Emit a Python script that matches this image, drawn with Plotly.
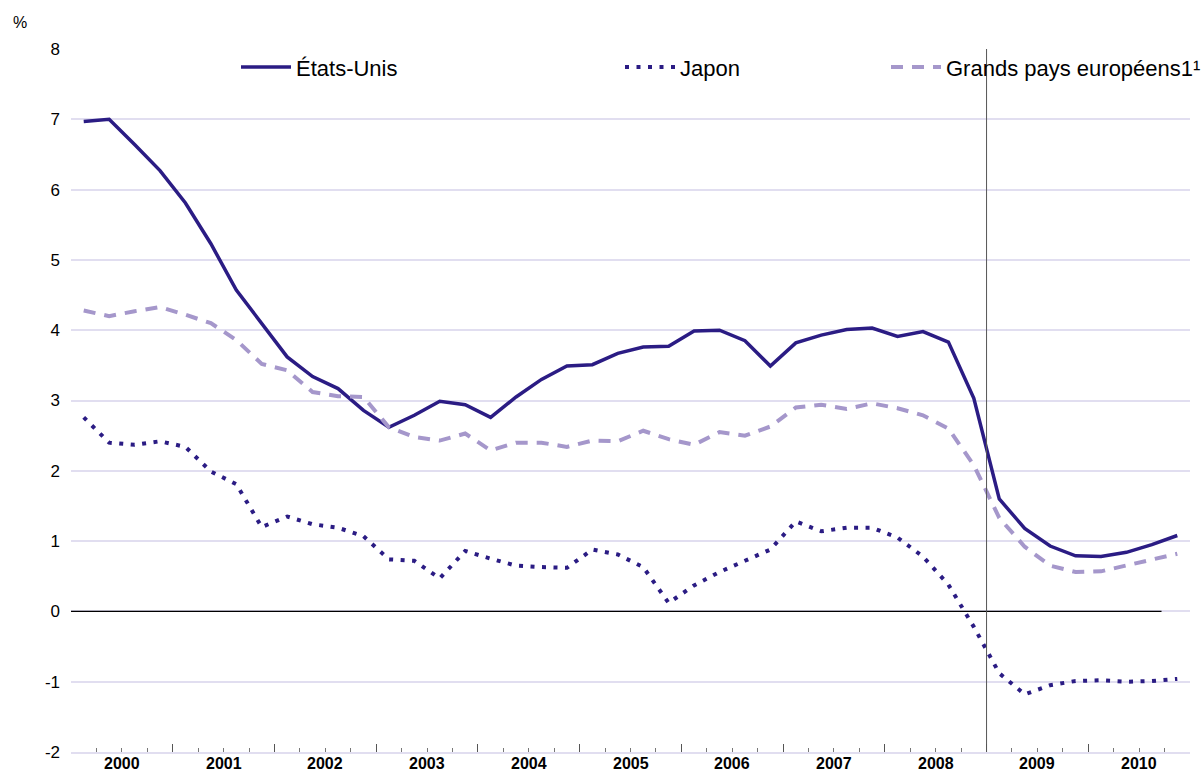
import plotly.graph_objects as go

# ---- data (quarterly, 2000T1 .. 2010T4) ----
years = list(range(2000, 2011))
quarters = [1, 2, 3, 4]

etats_unis = [6.97, 7.00, 6.64, 6.27, 5.81, 5.23, 4.57, 4.09, 3.62, 3.34, 3.17, 2.86,
              2.62, 2.79, 2.99, 2.94, 2.76, 3.05, 3.30, 3.49, 3.51, 3.67, 3.76, 3.77,
              3.99, 4.00, 3.85, 3.49, 3.82, 3.93, 4.01, 4.03, 3.91, 3.98, 3.83, 3.03,
              1.60, 1.18, 0.93, 0.79, 0.78, 0.84, 0.95, 1.08]

japon = [2.76, 2.40, 2.37, 2.42, 2.34, 1.99, 1.81, 1.20, 1.35, 1.24, 1.19, 1.07,
         0.74, 0.72, 0.47, 0.86, 0.75, 0.65, 0.63, 0.62, 0.88, 0.81, 0.63, 0.12,
         0.37, 0.56, 0.72, 0.88, 1.28, 1.14, 1.19, 1.19, 1.05, 0.78, 0.38, -0.22,
         -0.88, -1.18, -1.05, -0.99, -0.98, -1.00, -0.99, -0.96]

europe = [4.28, 4.20, 4.27, 4.33, 4.22, 4.10, 3.86, 3.52, 3.43, 3.12, 3.06, 3.05,
          2.62, 2.48, 2.43, 2.53, 2.29, 2.40, 2.40, 2.34, 2.43, 2.42, 2.57, 2.45,
          2.37, 2.55, 2.50, 2.63, 2.90, 2.94, 2.88, 2.96, 2.89, 2.79, 2.60, 2.08,
          1.33, 0.92, 0.65, 0.56, 0.57, 0.65, 0.73, 0.82]

y_ticks = [-2, -1, 0, 1, 2, 3, 4, 5, 6, 7, 8]
y_ticktext = ["-2", "-1", "0", "1", "2", "3", "4", "5", "6", "7", "8"]

# quarter mid-points on a continuous year scale
x_q = [y + (q - 0.5) / 4 for y in years for q in quarters]

NAVY = "#2B1C84"
LAV = "#A597CB"
GRID = "#E1DEF0"
FONT = "Liberation Sans, Arial, Helvetica, sans-serif"

fig = go.Figure()
fig.add_trace(go.Scatter(x=x_q, y=etats_unis, mode="lines", name="États-Unis",
                         line=dict(color=NAVY, width=3.5), legend="legend"))
fig.add_trace(go.Scatter(x=x_q, y=japon, mode="lines", name="Japon",
                         line=dict(color=NAVY, width=4, dash="4px,7.5px"), legend="legend2"))
fig.add_trace(go.Scatter(x=x_q, y=europe, mode="lines", name="Grands pays européens1¹",
                         line=dict(color=LAV, width=4, dash="12px,9px"), legend="legend3"))

# zero line and 2009 marker
fig.add_shape(type="line", xref="x", yref="y", x0=2000, x1=2010.72, y0=0, y1=0,
              line=dict(color="black", width=1.3), layer="between")
fig.add_shape(type="line", xref="x", yref="paper", x0=2009, x1=2009, y0=0, y1=1,
              line=dict(color="#555555", width=1), layer="above")

# year labels centred in each year
for yr in years:
    fig.add_annotation(x=yr + 0.5, xref="x", y=0, yref="paper", text=f"<b>{yr}</b>",
                       showarrow=False, yanchor="middle", yshift=-11.5, borderpad=0,
                       font=dict(family=FONT, size=16, color="black"))

fig.add_annotation(x=-0.0535, xref="paper", xanchor="left", y=1.037, yref="paper",
                   yanchor="middle", text="%", showarrow=False,
                   font=dict(family=FONT, size=16, color="black"))

legend_common = dict(orientation="h", yanchor="middle", y=0.974, xanchor="left",
                     bgcolor="rgba(0,0,0,0)", borderwidth=0, itemwidth=50,
                     font=dict(family=FONT, size=22, color="black"))

fig.update_layout(
    width=1204, height=772,
    margin=dict(l=71, r=14, t=49, b=20, autoexpand=False),
    paper_bgcolor="white", plot_bgcolor="white",
    font=dict(family=FONT, size=17, color="black"),
    showlegend=True,
    legend=dict(legend_common, x=(236 - 71) / 1119),
    legend2=dict(legend_common, x=(620 - 71) / 1119),
    legend3=dict(legend_common, x=(886 - 71) / 1119),
    xaxis=dict(range=[2000, 2011], showgrid=False, zeroline=False,
               showline=True, linecolor=GRID, linewidth=1.5,
               tickvals=list(range(2000, 2012)), ticktext=[""] * 12,
               ticks="inside", ticklen=8, tickwidth=1, tickcolor="#555555",
               minor=dict(tickvals=[y + q / 4 for y in years for q in (1, 2, 3)],
                          ticks="inside", ticklen=4, tickwidth=1, tickcolor="#777777",
                          showgrid=False)),
    yaxis=dict(range=[-2, 8], tickvals=y_ticks, ticktext=y_ticktext,
               showgrid=True, gridcolor=GRID, gridwidth=1.5, zeroline=False,
               showline=False, ticks="", ticklabelstandoff=10,
               tickfont=dict(family=FONT, size=17, color="black")),
)

fig.write_html("out.html", config={"displayModeBar": False},
               post_script="document.body.style.margin='0';document.body.style.overflow='hidden';")
